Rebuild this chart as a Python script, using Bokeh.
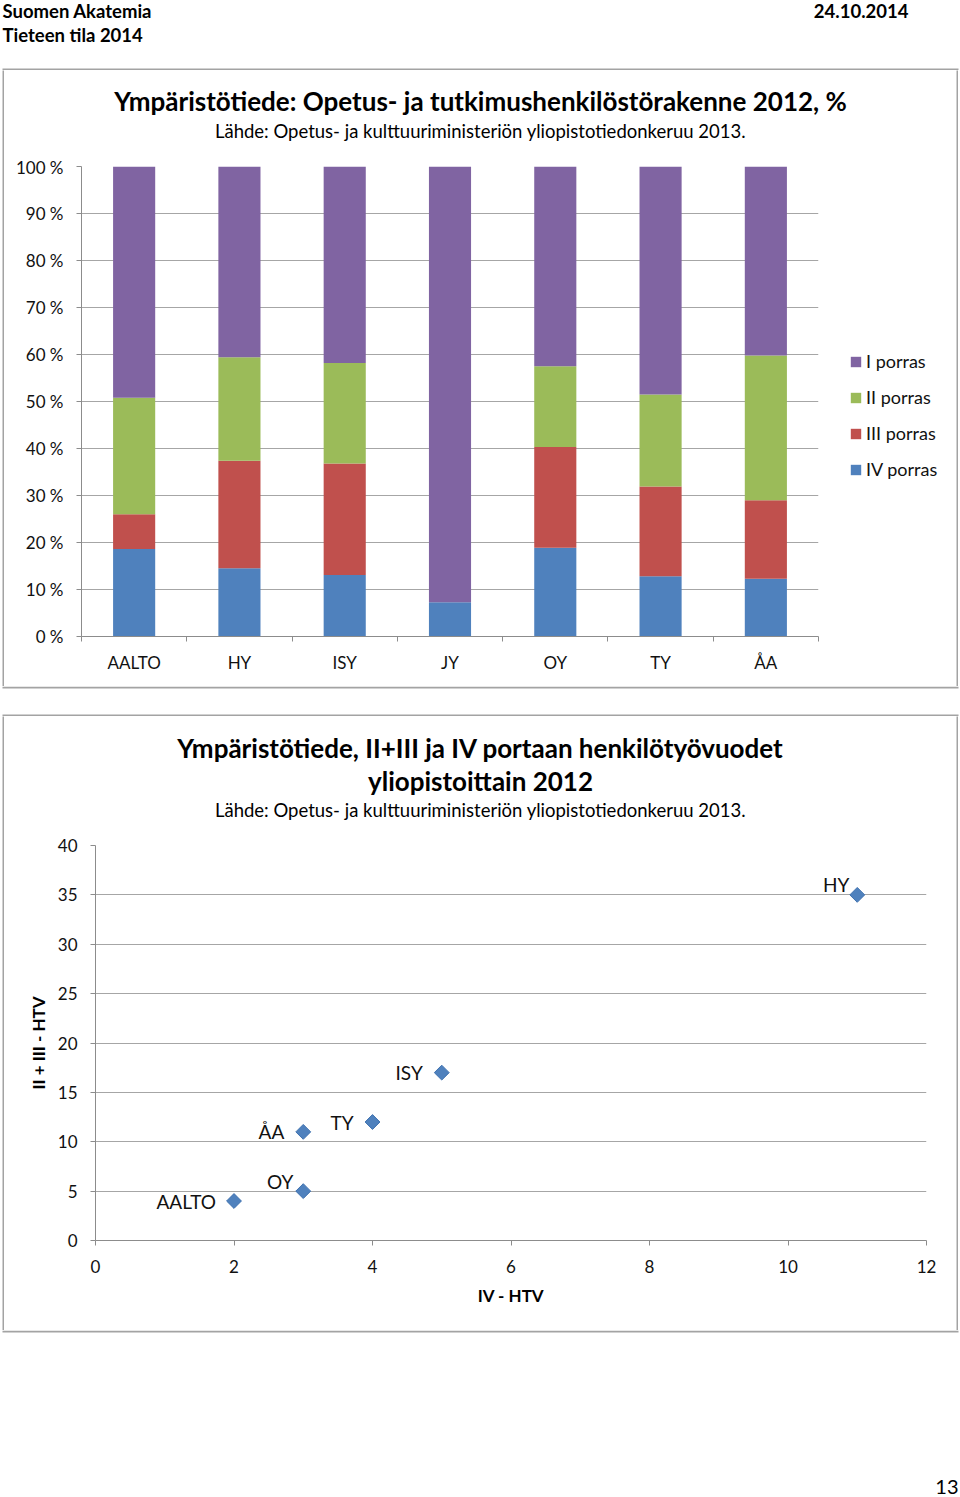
from bokeh.plotting import figure
from bokeh.models import (Range1d, FixedTicker, PrintfTickFormatter, Legend, LegendItem,
                          ColumnDataSource)
from bokeh.layouts import column, row
from bokeh.embed import file_html
from bokeh.resources import INLINE
from bokeh.core.properties import value

FONT = "Lato"
W = 960

# ---------------- data ----------------
header_left = ["Suomen Akatemia", "Tieteen tila 2014"]
header_date = "24.10.2014"
page_number = "13"

bar_title = "Ympäristötiede: Opetus- ja tutkimushenkilöstörakenne 2012, %"
source_note = "Lähde: Opetus- ja kulttuuriministeriön yliopistotiedonkeruu 2013."
universities = ["AALTO", "HY", "ISY", "JY", "OY", "TY", "ÅA"]
iv_porras = [18.6, 14.5, 13.1, 7.3, 18.9, 12.8, 12.3]
iii_porras = [7.4, 22.9, 23.7, 0.0, 21.4, 19.1, 16.7]
ii_porras = [24.8, 22.0, 21.4, 0.0, 17.2, 19.6, 30.8]
i_porras = [49.2, 40.6, 41.8, 92.7, 42.5, 48.5, 40.2]
level_names = ["IV porras", "III porras", "II porras", "I porras"]   # bottom -> top
level_colors = ["#4F81BD", "#C0504D", "#9BBB59", "#8064A2"]
pct_ticks = [0, 10, 20, 30, 40, 50, 60, 70, 80, 90, 100]

scatter_title = ["Ympäristötiede, II+III ja IV portaan henkilötyövuodet",
                 "yliopistoittain 2012"]
scatter_names = ["AALTO", "OY", "ÅA", "TY", "ISY", "HY"]
iv_htv = [2, 3, 3, 4, 5, 11]
ii_iii_htv = [4, 5, 11, 12, 17, 35]
x_ticks = [0, 2, 4, 6, 8, 10, 12]
y_ticks = [0, 5, 10, 15, 20, 25, 30, 35, 40]
x_label = "IV - HTV"
y_label = "II + III - HTV"

# label placement style (pixels) for the scatter point labels
label_dx = [-18, -10, -19, -19, -19, -8]
label_dy = [0, -10, 0, 0, 0, -10]

GRID = "#a6a6a6"
AXIS = "#8c8c8c"
BOX = "#a3a3a3"
TXT = "#111111"


def blank(width, height, fill="white"):
    p = figure(width=width, height=height, x_range=Range1d(0, width),
               y_range=Range1d(height, 0), output_backend="svg", toolbar_location=None,
               x_axis_location=None, y_axis_location=None, min_border=0,
               frame_align=False)
    p.outline_line_color = None
    p.grid.grid_line_color = None
    p.background_fill_color = fill
    p.border_fill_color = fill
    return p


def texts(p, xs, ys, labels, size, bold=False, align="center", baseline="middle"):
    p.text(x=xs, y=ys, text=labels, text_font=value(FONT), text_font_size=size,
           text_font_style="bold" if bold else "normal", text_color="#000",
           text_align=align, text_baseline=baseline)


def hrule(p, y0, y1):
    p.quad(left=[2], right=[958], top=[y0], bottom=[y1], fill_color=BOX, line_color=None)


def style_axis(ax, size="17px"):
    ax.axis_line_color = AXIS
    ax.major_tick_line_color = AXIS
    ax.minor_tick_line_color = AXIS
    ax.major_tick_in = 0
    ax.major_tick_out = 5
    ax.minor_tick_in = 0
    ax.minor_tick_out = 0
    ax.major_label_text_font = FONT
    ax.major_label_text_font_size = size
    ax.major_label_text_color = TXT


# ---------------- header (+ top edge of first box) ----------------
hdr = blank(W, 70)
texts(hdr, [2, 2], [10, 34], header_left, "18.5px", bold=True, align="left")
texts(hdr, [908], [10], [header_date], "18.5px", bold=True, align="right")
hrule(hdr, 68, 70)

# ---------------- chart 1: stacked bars ----------------
INNER_W = 952
t1 = blank(INNER_W, 86)
texts(t1, [476], [30], [bar_title], "26px", bold=True)
texts(t1, [476], [60], [source_note], "18.5px")

H1 = 530
p1 = figure(width=824, height=H1, x_range=Range1d(0.5, len(universities) + 0.5),
            y_range=Range1d(0, 100), output_backend="svg", toolbar_location=None,
            frame_align=False)
p1.min_border_left = 77
p1.min_border_right = 10
p1.min_border_top = 10
p1.min_border_bottom = 50
p1.outline_line_color = None

pos = list(range(1, len(universities) + 1))
src1 = ColumnDataSource(dict(x=pos, uni=universities,
                             **{"IV porras": iv_porras, "III porras": iii_porras,
                                "II porras": ii_porras, "I porras": i_porras}))
rends = p1.vbar_stack(level_names, x="x", width=0.4, color=level_colors,
                      line_color=None, source=src1)

p1.xgrid.grid_line_color = None
p1.ygrid.grid_line_color = GRID
p1.ygrid.grid_line_width = 1.2
p1.yaxis.ticker = FixedTicker(ticks=pct_ticks)
p1.yaxis.formatter = PrintfTickFormatter(format="%d %%")
p1.xaxis.ticker = FixedTicker(ticks=pos,
                              minor_ticks=[v + 0.5 for v in range(0, len(universities) + 1)])
p1.xaxis.major_label_overrides = {v: u for v, u in zip(pos, universities)}
style_axis(p1.xaxis[0])
style_axis(p1.yaxis[0])
p1.yaxis.major_label_standoff = 13
p1.xaxis.major_tick_line_color = None
p1.xaxis.major_tick_out = 0
p1.xaxis.minor_tick_out = 5
p1.xaxis.major_label_standoff = 10

# legend panel to the right of the bar chart (swatches share the series colours)
legf = blank(128, H1)
leg_src = ColumnDataSource(dict(x=[-50], top=[0]))
leg_rends = [legf.vbar(x="x", top="top", bottom=0, width=1, fill_color=c, line_color=None,
                       source=leg_src) for c in level_colors]
items = [LegendItem(label=n, renderers=[r]) for n, r in zip(level_names, leg_rends)][::-1]
leg = Legend(items=items, location=(21, 206), orientation="vertical",
             glyph_width=13, glyph_height=13, label_height=22, spacing=14,
             label_standoff=4, padding=0, margin=0, border_line_color=None,
             background_fill_alpha=0, label_text_font=FONT, label_text_font_size="18px",
             label_text_color=TXT)
legf.add_layout(leg)

inner1 = column(t1, row(p1, legf, spacing=0), spacing=0)

# ---------------- chart 2: scatter ----------------
t2 = blank(INNER_W, 117)
texts(t2, [476, 476], [31, 64], scatter_title, "26px", bold=True)
texts(t2, [476], [93], [source_note], "18.5px")

H2 = 497
p2 = figure(width=INNER_W, height=H2, x_range=Range1d(0, 12), y_range=Range1d(0, 40),
            output_backend="svg", toolbar_location=None, frame_align=False)
p2.min_border_left = 91
p2.min_border_right = 30
p2.min_border_top = 12
p2.min_border_bottom = 90
p2.outline_line_color = None
p2.xgrid.grid_line_color = None
p2.ygrid.grid_line_color = GRID
p2.ygrid.grid_line_width = 1.2
p2.xaxis.ticker = FixedTicker(ticks=x_ticks)
p2.yaxis.ticker = FixedTicker(ticks=y_ticks)
for ax in (p2.xaxis[0], p2.yaxis[0]):
    style_axis(ax)
    ax.minor_tick_line_color = None
    ax.major_label_standoff = 13
    ax.axis_label_text_font = FONT
    ax.axis_label_text_font_size = "17px"
    ax.axis_label_text_font_style = "bold"
    ax.axis_label_text_color = "#000"
p2.xaxis.major_label_standoff = 14
p2.xaxis.axis_label = x_label
p2.yaxis.axis_label = y_label
p2.xaxis.axis_label_standoff = 9
p2.yaxis.axis_label_standoff = 6

src2 = ColumnDataSource(dict(x=iv_htv, y=ii_iii_htv, name=scatter_names,
                             dx=label_dx, dy=label_dy))
p2.scatter(x="x", y="y", source=src2, marker="square", size=10.5, angle=0.785398,
           fill_color="#4F81BD", line_color="#3f72b0", line_width=1)
p2.text(x="x", y="y", text="name", source=src2, x_offset="dx", y_offset="dy",
        text_align="right", text_baseline="middle", text_font=value(FONT),
        text_font_size="19px", text_color=TXT)

inner2 = column(t2, p2, spacing=0)


# ---------------- framed boxes (side edges) ----------------
def boxed(inner, inner_h):
    return row(blank(2, inner_h), blank(2, inner_h, BOX), inner,
               blank(2, inner_h, BOX), blank(2, inner_h), spacing=0)


box1 = boxed(inner1, 616)
gap = blank(W, 30)
hrule(gap, 0, 2)
hrule(gap, 28, 30)
box2 = boxed(inner2, 614)

# ---------------- footer (+ bottom edge of second box) ----------------
ftr = blank(W, 167)
hrule(ftr, 0, 2)
texts(ftr, [958], [156], [page_number], "20px", align="right")

page = column(hdr, box1, gap, box2, ftr, spacing=0)
open("out.html", "w").write(file_html(page, INLINE))
